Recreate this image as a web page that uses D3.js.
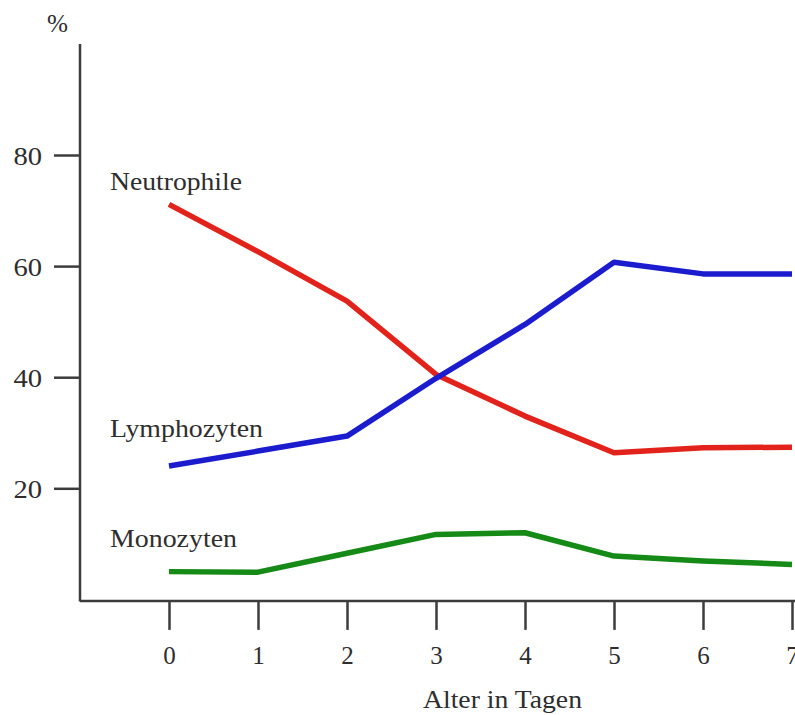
<!DOCTYPE html>
<html>
<head>
<meta charset="utf-8">
<script src="https://cdn.jsdelivr.net/npm/d3@7"></script>
<style>
  html, body { margin: 0; padding: 0; background: #fff; }
  svg { display: block; }
  text { font-family: "Liberation Serif", "Times New Roman", serif; fill: #2e2e2e; }
</style>
</head>
<body>
<svg id="chart" width="795" height="715"></svg>
<script>
const days = [0, 1, 2, 3, 4, 5, 6, 7];
const neutrophile = [71.1, 62.6, 53.7, 40.5, 33.0, 26.4, 27.3, 27.4];
const lymphozyten = [24.0, 26.7, 29.4, 39.8, 49.5, 60.7, 58.6, 58.6];
const monozyten   = [5.0, 4.9, 8.3, 11.7, 12.0, 7.8, 6.9, 6.3];
const yTicks = [20, 40, 60, 80];
const seriesNames = ["Neutrophile", "Lymphozyten", "Monozyten"];
const seriesColors = ["#e2231c", "#1c1ccf", "#168a16"];
const xTitle = "Alter in Tagen";
const yTitle = "%";

const svg = d3.select("#chart");
const x = d3.scaleLinear().domain([0, 7]).range([169, 792]);
const y = d3.scaleLinear().domain([0, 100]).range([599.4, 43.9]);

const axisColor = "#3c3c3c";

// Y axis
const yAxis = svg.append("g").attr("transform", "translate(80,0)")
  .call(d3.axisLeft(y).tickValues(yTicks).tickSize(26).tickPadding(12).tickSizeOuter(0));
yAxis.select(".domain").remove();
yAxis.append("line").attr("x1", 0).attr("x2", 0).attr("y1", y(100)).attr("y2", y(0) + 2)
  .attr("stroke", axisColor).attr("stroke-width", 2.5);
yAxis.selectAll(".tick line").attr("stroke", axisColor).attr("stroke-width", 2.5);
yAxis.selectAll(".tick text").attr("font-size", 26)
  .attr("dy", "0.35em")
  .attr("transform", "scale(1.1,1)").attr("x", -38 / 1.1);

// X axis
const xAxis = svg.append("g").attr("transform", `translate(0,${y(0) + 1.5})`)
  .call(d3.axisBottom(x).tickValues(days).tickSize(29).tickPadding(16).tickSizeOuter(0).tickFormat(d3.format("d")));
xAxis.select(".domain").remove();
xAxis.append("line").attr("x1", 80).attr("x2", 795).attr("y1", 0).attr("y2", 0)
  .attr("stroke", axisColor).attr("stroke-width", 2.5);
xAxis.selectAll(".tick line").attr("stroke", axisColor).attr("stroke-width", 2.5);
xAxis.selectAll(".tick text").attr("font-size", 25);

// Axis titles
svg.append("text").attr("x", 47).attr("y", 32).attr("font-size", 26)
  .attr("textLength", 21).attr("lengthAdjust", "spacingAndGlyphs").text(yTitle);
svg.append("text").attr("x", 423).attr("y", 708).attr("font-size", 25)
  .attr("textLength", 159).attr("lengthAdjust", "spacingAndGlyphs").text(xTitle);

// Lines
const line = d3.line().x((d, i) => x(days[i])).y(d => y(d));
[neutrophile, lymphozyten, monozyten].forEach((vals, k) => {
  svg.append("path").datum(vals)
    .attr("d", line)
    .attr("fill", "none")
    .attr("stroke", seriesColors[k])
    .attr("stroke-width", 5.5)
    .attr("stroke-linejoin", "round");
});

// Series labels
const labelPos = [
  { x: 110, y: 190, w: 132 },
  { x: 110, y: 437, w: 153 },
  { x: 110, y: 547, w: 127 }
];
seriesNames.forEach((name, k) => {
  svg.append("text").attr("x", labelPos[k].x).attr("y", labelPos[k].y)
    .attr("font-size", 25)
    .attr("textLength", labelPos[k].w).attr("lengthAdjust", "spacingAndGlyphs")
    .text(name);
});
</script>
</body>
</html>
